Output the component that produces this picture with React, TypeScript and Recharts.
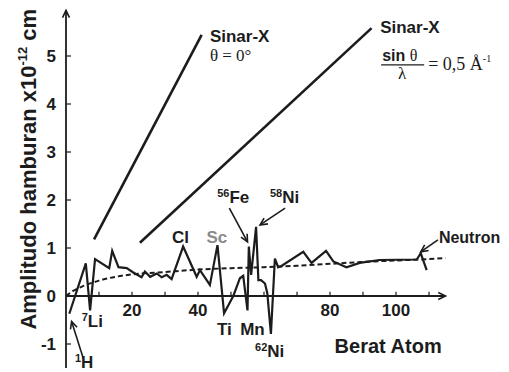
import React from "react";
import {
  ComposedChart,
  Line,
  XAxis,
  YAxis,
  ReferenceLine,
  ReferenceDot,
} from "recharts";

// neutron scattering amplitude vs atomic weight
const neutronMass = [
  1, 6, 7.3, 8.8, 13.1, 14, 15.9, 18.4, 20.4, 22.9, 23.9, 25.5, 27.5, 29, 30.5,
  32, 35.5, 39.6, 40.6, 43.6, 45.9, 47.9, 50.7, 52.7, 53.7, 55, 55.4, 56.1,
  57.6, 58.3, 59.1, 60.3, 61, 62.1, 63.3, 64.3, 65.4, 71.9, 74.4, 78.8, 81, 85,
  89, 95, 106.3, 107.5, 109.3,
];
const neutronAmp = [
  -0.37, 0.68, -0.3, 0.77, 0.58, 0.94, 0.6, 0.58, 0.49, 0.39, 0.51, 0.4, 0.47,
  0.39, 0.44, 0.35, 1.03, 0.4, 0.54, 0.23, 1.06, -0.36, 0, 0.37, 0.42, -0.3,
  1.03, 0.44, 1.44, 0.33, 0.33, 0.26, 0.06, -0.79, 0.78, 0.6, 0.63, 0.92, 0.69,
  0.94, 0.72, 0.6, 0.69, 0.75, 0.76, 0.89, 0.54,
];

// smooth trend (dashed)
const trendMass = [0, 2, 5, 10, 15, 20, 30, 40, 50, 60, 70, 80, 90, 100, 110, 115];
const trendAmp = [0, 0.1, 0.2, 0.32, 0.4, 0.45, 0.5, 0.55, 0.58, 0.6, 0.63, 0.67, 0.71, 0.74, 0.77, 0.79];

// x-ray lines
const xray0Mass = [8.5, 41.1];
const xray0Amp = [1.18, 5.44];
const xrayHalfMass = [22.4, 92.6];
const xrayHalfAmp = [1.11, 5.58];

const xTickMarks = [10, 20, 30, 40, 50, 60, 70, 80, 90, 100, 110];
const xTickLabels = [20, 40, 80, 100];
const yTicks = [-1, 0, 1, 2, 3, 4, 5];

const zip = (xs: number[], ys: number[]) => xs.map((x, i) => ({ x, y: ys[i] }));

const neutron = zip(neutronMass, neutronAmp);
const trend = zip(trendMass, trendAmp);
const xray0 = zip(xray0Mass, xray0Amp);
const xrayHalf = zip(xrayHalfMass, xrayHalfAmp);

const sans = '"Liberation Sans", Arial, sans-serif';
const serif = '"Liberation Serif", "Times New Roman", serif';
const ink = "#1c1c1c";

function ArrowLine(p: any) {
  const { x1, y1, x2, y2, head, width } = p;
  const ang = Math.atan2(y2 - y1, x2 - x1);
  const L = 8;
  const a1 = ang + Math.PI - 0.45;
  const a2 = ang + Math.PI + 0.45;
  return (
    <g>
      <line x1={x1} y1={y1} x2={x2} y2={y2} stroke={ink} strokeWidth={width ?? 1.6} />
      {head && (
        <polyline
          points={`${x2 + L * Math.cos(a1)},${y2 + L * Math.sin(a1)} ${x2},${y2} ${x2 + L * Math.cos(a2)},${y2 + L * Math.sin(a2)}`}
          fill="none"
          stroke={ink}
          strokeWidth={1.6}
        />
      )}
    </g>
  );
}

const seg = (
  key: string,
  x1: number,
  y1: number,
  x2: number,
  y2: number,
  head = true,
  width = 1.6
) => (
  <ReferenceLine
    key={key}
    segment={[
      { x: x1, y: y1 },
      { x: x2, y: y2 },
    ]}
    ifOverflow="visible"
    shape={(p: any) => <ArrowLine {...p} head={head} width={width} />}
  />
);

const note = (
  key: string,
  x: number,
  y: number,
  render: (cx: number, cy: number) => React.ReactElement
) => (
  <ReferenceDot
    key={key}
    x={x}
    y={y}
    r={0}
    ifOverflow="visible"
    shape={(p: any) => render(p.cx, p.cy)}
  />
);

const bold = (txt: string, size = 17, anchor: "start" | "middle" = "start", fill = ink) =>
  (cx: number, cy: number) => (
    <text x={cx} y={cy} fontFamily={sans} fontWeight={700} fontSize={size} fill={fill} textAnchor={anchor}>
      {txt}
    </text>
  );

const isotope = (mass: string, sym: string) => (cx: number, cy: number) => (
  <text x={cx} y={cy} fontFamily={sans} fontWeight={700} fill={ink}>
    <tspan fontSize={11} dy={-6}>{mass}</tspan>
    <tspan fontSize={17} dy={6}>{sym}</tspan>
  </text>
);

function YLabel(props: any) {
  const vb = props.viewBox;
  const x = vb.x + 18;
  const y = vb.y + vb.height / 2 - 20;
  return (
    <text
      x={x}
      y={y}
      transform={`rotate(-90, ${x}, ${y})`}
      textAnchor="middle"
      fontFamily={sans}
      fontWeight={700}
      fontSize={22}
      fill={ink}
    >
      Amplitudo hamburan x10
      <tspan fontSize={13} dy={-9}>-12</tspan>
      <tspan dy={9}> cm</tspan>
    </text>
  );
}

export default function App() {
  return (
    <div style={{ width: 501, height: 364, background: "#fff" }}>
      <ComposedChart
        width={501}
        height={364}
        margin={{ top: 2.4, right: 7.4, bottom: 4, left: 10 }}
      >
        <XAxis type="number" dataKey="x" domain={[0, 132]} allowDataOverflow hide />
        <YAxis
          type="number"
          dataKey="y"
          width={48}
          domain={[-1.5, 5.95]}
          allowDataOverflow
          ticks={yTicks}
          axisLine={false}
          tickLine={false}
          tickSize={4}
          tickMargin={6}
          tick={{ fill: ink, fontSize: 17, fontWeight: 700, fontFamily: sans }}
          label={<YLabel />}
        />

        {/* axes drawn at the origin */}
        {seg("xaxis", 0, 0, 115, 0, true, 1.8)}
        {seg("yaxis", 0, -1.5, 0, 5.95, true, 1.8)}
        {xTickMarks.map((t) => seg(`xt${t}`, t, 0, t, 0.09, false, 1.2))}
        {yTicks.map((t) => seg(`yt${t}`, 0, t, 1.5, t, false, 1.2))}
        {xTickLabels.map((t) =>
          note(`xl${t}`, t, 0, (cx, cy) => (
            <text x={cx} y={cy + 20} textAnchor="middle" fontFamily={sans} fontWeight={700} fontSize={17} fill={ink}>
              {t}
            </text>
          ))
        )}

        <Line data={xray0} dataKey="y" type="linear" stroke={ink} strokeWidth={2.6} dot={false} activeDot={false} isAnimationActive={false} />
        <Line data={xrayHalf} dataKey="y" type="linear" stroke={ink} strokeWidth={2.6} dot={false} activeDot={false} isAnimationActive={false} />
        <Line data={trend} dataKey="y" type="monotone" stroke={ink} strokeWidth={2} strokeDasharray="5 3" dot={false} activeDot={false} isAnimationActive={false} />
        <Line data={neutron} dataKey="y" type="linear" stroke={ink} strokeWidth={2.2} dot={false} activeDot={false} isAnimationActive={false} />

        {/* x-ray labels */}
        {note("sx1", 43.6, 5.29, bold("Sinar-X"))}
        {note("th0", 43.6, 4.9, (cx, cy) => (
          <text x={cx} y={cy} fontFamily={serif} fontSize={17} fill={ink}>
            θ = 0°
          </text>
        ))}
        {note("sx2", 95.2, 5.48, (cx, cy) => (
          <g fill={ink}>
            <text x={cx} y={cy} fontFamily={sans} fontWeight={700} fontSize={17}>Sinar-X</text>
            <text x={cx + 2} y={cy + 28} fontSize={16}>
              <tspan fontFamily={sans} fontWeight={700}>sin </tspan>
              <tspan fontFamily={serif}>θ</tspan>
            </text>
            <line x1={cx + 1} y1={cy + 32} x2={cx + 44} y2={cy + 32} stroke={ink} strokeWidth={1.2} />
            <text x={cx + 22} y={cy + 46} textAnchor="middle" fontFamily={serif} fontSize={17}>λ</text>
            <text x={cx + 48} y={cy + 37} fontFamily={serif} fontSize={18}>
              = 0,5 Å<tspan fontSize={10} dy={-8}>-1</tspan>
            </text>
          </g>
        ))}

        {/* element labels */}
        {note("cl", 34.7, 1.1, bold("Cl", 17, "middle"))}
        {note("sc", 45.7, 1.1, bold("Sc", 17, "middle", "#8a8a8a"))}
        {note("fe", 45.8, 1.94, isotope("56", "Fe"))}
        {note("ni58", 61.8, 1.94, isotope("58", "Ni"))}
        {note("ti", 48, -0.81, bold("Ti", 17, "middle"))}
        {note("mn", 56.5, -0.81, bold("Mn", 17, "middle"))}
        {note("ni62", 57.3, -1.27, isotope("62", "Ni"))}
        {note("li", 4.75, -0.64, isotope("7", "Li"))}
        {note("h", 2.7, -1.5, isotope("1", "H"))}
        {note("neu", 113, 1.1, bold("Neutron", 16))}
        {note("berat", 81.4, -1.19, bold("Berat Atom", 20))}

        {seg("afe", 49.5, 1.83, 55, 1.13)}
        {seg("ani", 66.4, 1.83, 58.8, 1.48)}
        {seg("ah", 5.25, -1.3, 1.7, -0.53)}
        {seg("aneu", 112.7, 1.17, 107.5, 0.92)}
      </ComposedChart>
    </div>
  );
}
